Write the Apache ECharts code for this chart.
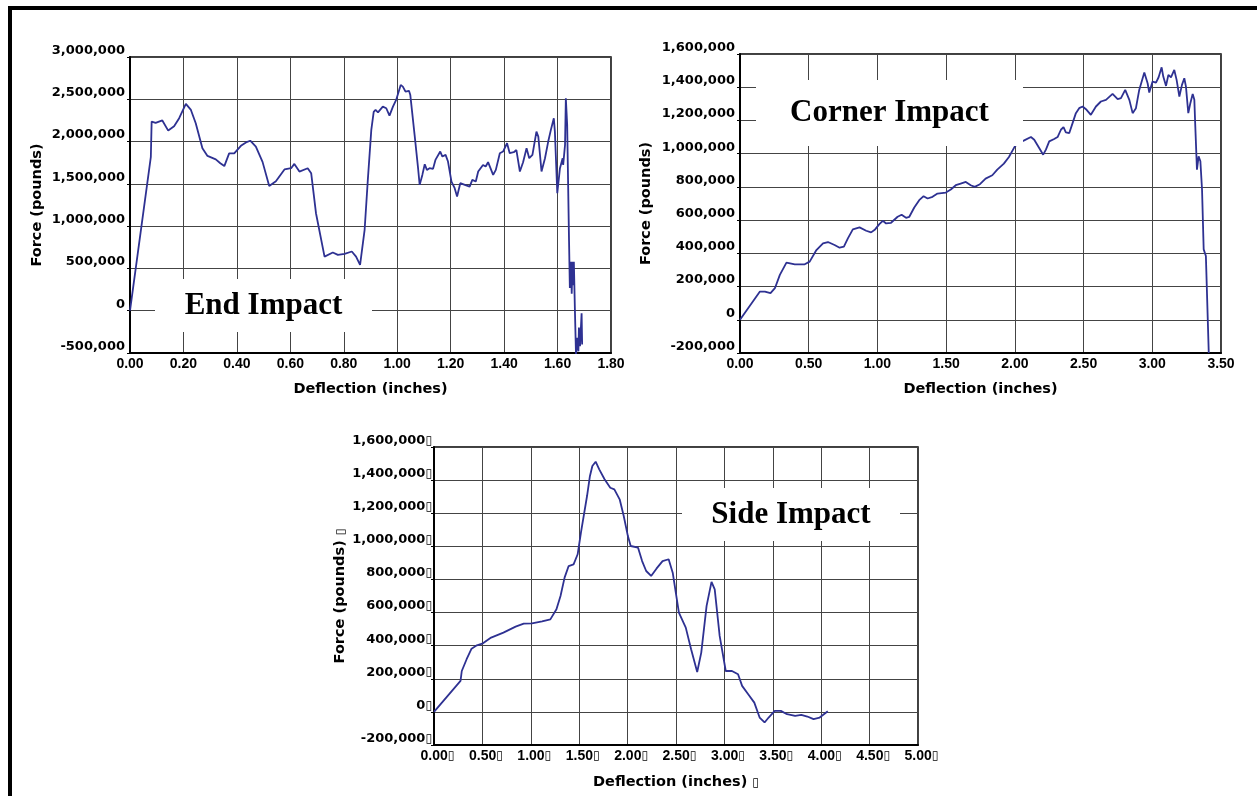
<!DOCTYPE html>
<html>
<head>
<meta charset="utf-8">
<title>Impact force vs deflection</title>
<script src="https://cdn.jsdelivr.net/npm/echarts@6/dist/echarts.min.js"></script>
<style>
    html, body { margin: 0; padding: 0; background: #fff; }
    #chart { width: 1257px; height: 796px; }
</style>
</head>
<body>
<div id="chart"></div>
<script>
// End Impact
const endDeflection = [
    0, 0.078, 0.081, 0.096, 0.121, 0.143, 0.165, 0.184, 0.209, 0.228,
    0.246, 0.271, 0.29, 0.321, 0.338, 0.353, 0.371, 0.39, 0.415, 0.434,
    0.45, 0.471, 0.496, 0.521, 0.546, 0.578, 0.603, 0.615, 0.634, 0.665,
    0.678, 0.696, 0.728, 0.759, 0.778, 0.803, 0.83, 0.846, 0.861, 0.878,
    0.89, 0.903, 0.912, 0.919, 0.928, 0.946, 0.959, 0.971, 0.984, 0.996,
    1.013, 1.021, 1.031, 1.044, 1.049, 1.065, 1.078, 1.084, 1.094, 1.103,
    1.111, 1.121, 1.134, 1.143, 1.161, 1.169, 1.181, 1.19, 1.203, 1.215,
    1.224, 1.236, 1.253, 1.271, 1.281, 1.294, 1.303, 1.321, 1.331, 1.34,
    1.359, 1.369, 1.384, 1.396, 1.411, 1.421, 1.436, 1.446, 1.459, 1.471,
    1.484, 1.494, 1.506, 1.521, 1.528, 1.54, 1.553, 1.565, 1.575, 1.586,
    1.59, 1.599, 1.609, 1.619, 1.621, 1.628, 1.631, 1.636, 1.643, 1.646,
    1.65, 1.653, 1.656, 1.659, 1.661, 1.665, 1.669, 1.674, 1.678, 1.68,
    1.684, 1.69, 1.692
];
const endForce = [
    0, 1820000, 2236000, 2220000, 2250000, 2130000, 2180000, 2276000, 2445000, 2374000,
    2217000, 1920000, 1830000, 1790000, 1744000, 1710000, 1860000, 1860000, 1950000, 1990000,
    2010000, 1940000, 1760000, 1476000, 1530000, 1670000, 1685000, 1736000, 1645000, 1685000,
    1626000, 1153000, 640000, 689000, 660000, 673000, 700000, 640000, 543000, 957000,
    1547000, 2138000, 2350000, 2374000, 2346000, 2413000, 2394000, 2307000, 2413000, 2492000,
    2670000, 2650000, 2590000, 2600000, 2550000, 2080000, 1685000, 1488000, 1606000, 1732000,
    1665000, 1685000, 1677000, 1783000, 1882000, 1823000, 1843000, 1764000, 1527000, 1449000,
    1350000, 1508000, 1488000, 1468000, 1547000, 1528000, 1646000, 1724000, 1705000, 1756000,
    1606000, 1665000, 1862000, 1882000, 1980000, 1862000, 1874000, 1900000, 1646000, 1756000,
    1921000, 1803000, 1843000, 2118000, 2059000, 1646000, 1803000, 2000000, 2138000, 2276000,
    2118000, 1390000, 1685000, 1803000, 1724000, 1961000, 2512000, 2197000, 820000, 270000,
    580000, 200000, 580000, 300000, 580000, 0, -520000, -320000, -480000, -200000,
    -420000, -30000, -400000
];

// Corner Impact
const cornerDeflection = [
    0, 0.145, 0.181, 0.222, 0.254, 0.29, 0.338, 0.399, 0.471, 0.507,
    0.556, 0.604, 0.64, 0.688, 0.725, 0.756, 0.785, 0.821, 0.87, 0.918,
    0.954, 0.983, 1.014, 1.039, 1.063, 1.099, 1.147, 1.176, 1.208, 1.232,
    1.268, 1.304, 1.336, 1.365, 1.401, 1.437, 1.498, 1.534, 1.57, 1.606,
    1.643, 1.679, 1.708, 1.746, 1.787, 1.836, 1.872, 1.92, 1.957, 2.0,
    2.036, 2.068, 2.117, 2.141, 2.177, 2.206, 2.226, 2.25, 2.286, 2.311,
    2.335, 2.354, 2.371, 2.396, 2.42, 2.444, 2.468, 2.493, 2.522, 2.553,
    2.59, 2.626, 2.663, 2.711, 2.748, 2.772, 2.803, 2.833, 2.857, 2.881,
    2.905, 2.942, 2.966, 2.978, 3.002, 3.027, 3.046, 3.068, 3.08, 3.1,
    3.117, 3.136, 3.16, 3.177, 3.197, 3.216, 3.233, 3.245, 3.262, 3.277,
    3.294, 3.306, 3.313, 3.325, 3.337, 3.35, 3.362, 3.374, 3.386, 3.39,
    3.411
];
const cornerForce = [
    0, 170000, 170000, 160000, 190000, 270000, 344000, 334000, 334000, 350000,
    420000, 460000, 468000, 450000, 434000, 440000, 490000, 544000, 556000, 536000,
    526000, 544000, 576000, 596000, 580000, 584000, 620000, 632000, 614000, 620000,
    676000, 720000, 744000, 730000, 740000, 760000, 766000, 784000, 810000, 820000,
    830000, 810000, 800000, 816000, 850000, 870000, 904000, 940000, 980000, 1044000,
    1068000, 1080000, 1100000, 1084000, 1034000, 994000, 1024000, 1074000, 1088000, 1100000,
    1144000, 1160000, 1128000, 1124000, 1184000, 1244000, 1274000, 1284000, 1264000, 1234000,
    1284000, 1314000, 1324000, 1360000, 1328000, 1334000, 1384000, 1324000, 1244000, 1274000,
    1384000, 1488000, 1424000, 1368000, 1434000, 1428000, 1460000, 1520000, 1464000, 1408000,
    1474000, 1460000, 1504000, 1444000, 1344000, 1414000, 1454000, 1404000, 1244000, 1304000,
    1360000, 1324000, 1164000, 904000, 984000, 954000, 784000, 424000, 428000, 384000,
    -200000
];

// Side Impact
const sideDeflection = [
    0, 0.274, 0.287, 0.337, 0.388, 0.443, 0.506, 0.59, 0.717, 0.843,
    0.927, 1.012, 1.117, 1.202, 1.265, 1.307, 1.349, 1.391, 1.442, 1.484,
    1.518, 1.581, 1.611, 1.636, 1.67, 1.707, 1.762, 1.821, 1.863, 1.918,
    1.96, 2.003, 2.032, 2.108, 2.15, 2.192, 2.243, 2.298, 2.361, 2.424,
    2.466, 2.53, 2.601, 2.656, 2.719, 2.761, 2.816, 2.867, 2.9, 2.951,
    3.014, 3.078, 3.141, 3.183, 3.246, 3.309, 3.364, 3.415, 3.457, 3.52,
    3.583, 3.647, 3.731, 3.794, 3.857, 3.921, 3.984, 4.068
];
const sideForce = [
    0, 187000, 247000, 318000, 382000, 402000, 414000, 449000, 479000, 515000,
    533000, 535000, 547000, 559000, 620000, 700000, 811000, 881000, 891000, 952000,
    1083000, 1304000, 1425000, 1485000, 1511000, 1465000, 1405000, 1354000, 1344000, 1284000,
    1183000, 1062000, 1002000, 992000, 911000, 851000, 821000, 865000, 911000, 922000,
    841000, 600000, 509000, 378000, 241000, 358000, 640000, 785000, 740000, 459000,
    247000, 247000, 227000, 157000, 107000, 56000, -34000, -64000, -34000, 6000,
    6000, -14000, -24000, -18000, -28000, -44000, -34000, 4000
];

const xTitle = 'Deflection (inches)';
const yTitle = 'Force (pounds)';

const chart = echarts.init(document.getElementById('chart'));

function commas(v) {
    return String(v).replace(/\B(?=(\d{3})+(?!\d))/g, ',');
}
function zip(xs, ys) {
    return xs.map(function (x, i) { return [x, ys[i]]; });
}

// the little box glyph that follows the labels of the side chart
const boxRich = {
    box: { fontFamily: 'DejaVu Sans', fontWeight: 'normal', fontSize: 12, color: '#000' }
};

function makeX(idx, max, interval, withBox) {
    return {
        gridIndex: idx,
        type: 'value',
        min: 0,
        max: max,
        interval: interval,
        axisLine: { show: true, onZero: false, lineStyle: { color: '#000', width: 2 } },
        axisTick: { show: false },
        splitLine: { show: true, lineStyle: { color: '#444', width: 1 } },
        axisLabel: {
            margin: 4,
            color: '#000',
            fontFamily: 'Liberation Sans',
            fontWeight: 'bold',
            fontSize: 14,
            padding: withBox ? [0, 0, 0, 7] : 0,
            formatter: function (v) { return v.toFixed(2) + (withBox ? '{box|▯}' : ''); },
            rich: boxRich
        },
        name: xTitle + (withBox ? ' {box|▯}' : ''),
        nameLocation: 'middle',
        nameGap: withBox ? 30 : 29,
        nameTextStyle: {
            color: '#000', fontFamily: 'DejaVu Sans', fontWeight: 'bold', fontSize: 14.5,
            rich: boxRich
        }
    };
}

function makeY(idx, min, max, interval, withBox, gap) {
    return {
        gridIndex: idx,
        type: 'value',
        min: min,
        max: max,
        interval: interval,
        axisLine: { show: true, onZero: false, lineStyle: { color: '#000', width: 2 } },
        axisTick: { show: true, length: 3, lineStyle: { color: '#000', width: 1 } },
        splitLine: { show: true, lineStyle: { color: '#444', width: 1 } },
        axisLabel: {
            margin: withBox ? 2 : 5,
            color: '#000',
            fontFamily: 'DejaVu Sans',
            fontWeight: 'bold',
            fontSize: 13,
            verticalAlign: 'bottom',
            lineHeight: 13,
            formatter: function (v) { return commas(v) + (withBox ? '{box|▯}' : ''); },
            rich: boxRich
        },
        name: yTitle + (withBox ? ' {box|▯}' : ''),
        nameLocation: 'middle',
        nameGap: gap,
        nameTextStyle: {
            color: '#000', fontFamily: 'DejaVu Sans', fontWeight: 'bold', fontSize: 14.5,
            rich: boxRich
        }
    };
}

function lineSeries(idx, xs, ys) {
    return {
        type: 'line',
        xAxisIndex: idx,
        yAxisIndex: idx,
        data: zip(xs, ys),
        showSymbol: false,
        symbol: 'none',
        smooth: false,
        clip: true,
        lineStyle: { color: '#2e3192', width: 1.8 },
        z: 3
    };
}

// white label box over the plot, covering grid lines and the curve
function titleBox(x, y, w, h, text) {
    return [
        { type: 'rect', z: 100, shape: { x: x, y: y, width: w, height: h }, style: { fill: '#fff' } },
        {
            type: 'text', z: 101, x: x + w / 2, y: y + h / 2,
            style: {
                text: text,
                font: 'bold 31px "Liberation Serif"',
                fill: '#000',
                align: 'center', verticalAlign: 'middle',
                textAlign: 'center', textVerticalAlign: 'middle'
            }
        }
    ];
}

const gridStyle = { show: true, borderColor: '#000', borderWidth: 1.5, backgroundColor: 'transparent' };

const option = {
    animation: false,
    backgroundColor: '#fff',
    grid: [
        Object.assign({ left: 130, top: 57, width: 481, height: 296 }, gridStyle),
        Object.assign({ left: 740, top: 54, width: 481, height: 299 }, gridStyle),
        Object.assign({ left: 434, top: 447, width: 484, height: 298 }, gridStyle)
    ],
    xAxis: [
        makeX(0, 1.8, 0.2, false),
        makeX(1, 3.5, 0.5, false),
        makeX(2, 5, 0.5, true)
    ],
    yAxis: [
        makeY(0, -500000, 3000000, 500000, false, 85),
        makeY(1, -200000, 1600000, 200000, false, 86),
        makeY(2, -200000, 1600000, 200000, true, 86)
    ],
    series: [
        lineSeries(0, endDeflection, endForce),
        lineSeries(1, cornerDeflection, cornerForce),
        lineSeries(2, sideDeflection, sideForce)
    ],
    graphic: [
        { type: 'rect', z: 100, shape: { x: 8, y: 6, width: 1249, height: 4 }, style: { fill: '#000' } },
        { type: 'rect', z: 100, shape: { x: 8, y: 6, width: 4, height: 790 }, style: { fill: '#000' } }
    ]
        .concat(titleBox(155, 279, 217, 53, 'End Impact'))
        .concat(titleBox(756, 80, 267, 66, 'Corner Impact'))
        .concat(titleBox(682, 488, 218, 53, 'Side Impact'))
};

chart.setOption(option);
</script>
</body>
</html>
